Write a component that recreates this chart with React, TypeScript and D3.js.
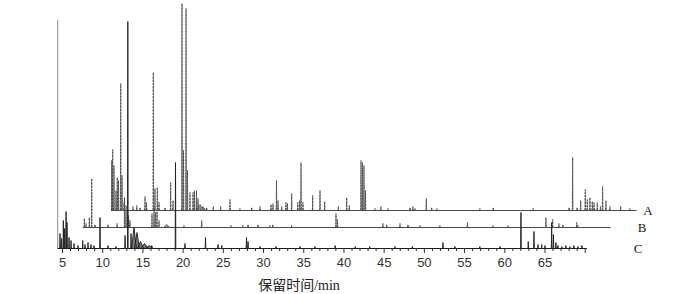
import React from 'react';
import * as d3 from 'd3';

// Shared retention-time axis (min)
const xTicks = [5, 10, 15, 20, 25, 30, 35, 40, 45, 50, 55, 60, 65];
const minorTicks = d3.range(5, 71, 1);
const traceNames = ['A', 'B', 'C'];
// apparent start / end time of each trace on the shared axis
const traceRanges: [number, number][] = [[11.03, 76.4], [7.51, 73.17], [4.4, 70.2]];

// peaks: [retention time (min, apparent), intensity, optional half width (min)]
const peaksA: number[][] = [
  [11.12, 50], [11.24, 61], [11.4, 45], [11.65, 20], [11.81, 33], [11.96, 30], [12.24, 127], [12.4, 35],
  [12.65, 8], [13.77, 4], [14.23, 5], [14.64, 3], [15.26, 14], [15.45, 8], [16.29, 138], [16.5, 22],
  [16.79, 23], [17.0, 8], [17.75, 3], [18.45, 28], [18.74, 10], [19.86, 207], [20.05, 60], [20.36, 202],
  [20.54, 40], [20.85, 18], [21.23, 18], [21.41, 20], [21.66, 20], [21.85, 12], [22.1, 6, 0.5], [22.47, 4, 0.4],
  [22.93, 3], [23.75, 4], [24.67, 4], [25.83, 11], [27.07, 2], [28.53, 3], [29.56, 4], [30.93, 6],
  [31.18, 7], [31.61, 30], [31.8, 10], [32.26, 4], [32.79, 8], [32.97, 7], [33.5, 17], [34.25, 8],
  [34.47, 10], [34.66, 48], [34.9, 8], [36.11, 15], [37.02, 20], [37.6, 9], [39.3, 4], [40.34, 13],
  [40.66, 5], [42.12, 50], [42.3, 48], [42.49, 45], [42.68, 20], [43.86, 2], [44.6, 4], [45.48, 2],
  [48.21, 3], [48.58, 4], [48.84, 2], [50.24, 12], [50.91, 3], [51.57, 2], [56.91, 2], [58.57, 3],
  [63.54, 2], [68.0, 3], [68.44, 53], [69.0, 3], [69.44, 10], [70.01, 21], [70.26, 11], [70.59, 13],
  [70.88, 9], [71.1, 8], [71.5, 8], [71.9, 4], [72.17, 24], [72.58, 10], [73.08, 4], [74.41, 4], [75.57, 2],
];

const peaksB: number[][] = [
  [7.71, 9], [7.92, 4], [8.33, 10], [8.63, 49], [9.04, 3], [10.66, 3], [11.78, 4], [12.71, 30],
  [12.9, 22], [13.21, 12], [13.39, 7], [16.13, 14], [16.38, 20], [16.56, 15], [16.75, 16], [17.0, 7],
  [17.96, 3, 0.4], [20.11, 2], [22.31, 7], [25.95, 2], [27.44, 2], [28.07, 3], [29.31, 3], [30.8, 2],
  [31.14, 3], [33.5, 2], [39.01, 14], [39.2, 8], [44.85, 4], [45.31, 3], [46.97, 4], [47.96, 3],
  [49.45, 2], [51.94, 2], [55.36, 5], [58.53, 2], [60.4, 2], [65.12, 10], [65.95, 8], [66.74, 4],
  [67.24, 3], [68.94, 5], [69.1, 2],
];

const peaksC: number[][] = [
  [4.69, 15], [4.88, 10], [5.1, 28], [5.25, 20], [5.44, 37], [5.56, 26], [5.81, 11], [6.06, 8],
  [6.43, 5], [6.93, 3], [7.51, 8], [7.8, 4], [8.17, 6], [8.54, 4], [8.92, 3], [9.66, 31],
  [10.66, 3], [11.65, 2], [12.78, 13], [13.12, 227], [13.52, 15], [13.89, 21, 0.3], [14.26, 16, 0.3],
  [14.7, 7, 0.4], [15.2, 5, 0.5], [15.8, 3, 0.5], [16.1, 3], [19.05, 86], [20.23, 5], [22.78, 11], [24.34, 4],
  [24.8, 3], [27.88, 11], [28.07, 7], [29.56, 2], [31.55, 2], [34.53, 2], [36.4, 2], [38.9, 3],
  [41.4, 2], [43.2, 2], [46.35, 2], [48.5, 2], [52.31, 6], [53.8, 2], [56.9, 2], [59.4, 2],
  [62.01, 36], [62.92, 7], [63.63, 17], [64.13, 4], [64.59, 4], [65.0, 3], [65.83, 26], [66.05, 14],
  [66.36, 6], [66.61, 3], [67.1, 2], [67.6, 3], [68.1, 2], [68.6, 3], [69.1, 2], [69.6, 3],
];

const allPeaks = [peaksA, peaksB, peaksC];

export default function App() {
  const W = 700;
  const H = 294;
  const x = d3.scaleLinear().domain([4.4, 70.2]).range([57.7, 586.8]);
  const y = d3.scaleLinear().domain([0, 230]).range([0, 230]);
  const baselines = [210, 227, 248];
  const axisY = 248;
  const colors = ['#4a4a4a', '#4a4a4a', '#1e1e1e'];
  const dashes = ['2.5 0.8', '2.5 0.8', 'none'];
  const line = d3.line<[number, number]>().x((d) => d[0]).y((d) => d[1]);

  const basePath = (i: number) => {
    const base = baselines[i] + 0.5;
    const [t0, t1] = traceRanges[i];
    return line([[x(t0), base], [x(t1), base]]) || '';
  };
  const peakPath = (i: number) => {
    const base = baselines[i] + 0.5;
    let p = '';
    for (const pk of allPeaks[i]) {
      const [t, v, hw] = pk;
      const w = hw ?? 0.04;
      p += ' ' + (line([[x(t - w), base], [x(t), base - y(v)], [x(t + w), base]]) || '');
    }
    return p;
  };

  return (
    <svg width={W} height={H} style={{ position: 'absolute', left: 0, top: 0, background: '#fff' }}>
      {/* y-axis line */}
      <line x1={x(4.4)} x2={x(4.4)} y1={axisY} y2={20} stroke="#8a8a8a" strokeWidth={1} />
      {/* x axis */}
      <line x1={x(4.4)} x2={x(70.2)} y1={axisY + 0.5} y2={axisY + 0.5} stroke="#222" strokeWidth={1} />
      {minorTicks.map((t) => (
        <line key={'m' + t} x1={x(t)} x2={x(t)} y1={axisY} y2={axisY + (t % 5 === 0 ? 5 : 3)} stroke="#333" strokeWidth={1} />
      ))}
      {xTicks.map((t) => (
        <text key={'t' + t} x={x(t)} y={267} textAnchor="middle" fontFamily="'Liberation Sans', Arial, sans-serif" fontSize={13} fill="#333">
          {t}
        </text>
      ))}
      <text x={299} y={290} textAnchor="middle" fontFamily="'Liberation Serif', 'Noto Sans CJK SC', serif" fontSize={14} fill="#222">
        保留时间/min
      </text>
      {traceNames.map((n, i) => (
        <path key={'b' + n} d={basePath(i)} fill="none" stroke={colors[i]} strokeWidth={1} />
      ))}
      {traceNames.map((n, i) => (
        <path key={'p' + n} d={peakPath(i)} fill={colors[i]} fillOpacity={0.6} stroke={colors[i]} strokeWidth={0.9} strokeDasharray={dashes[i]} />
      ))}
      {traceNames.map((n, i) => (
        <text key={'l' + n} x={[648, 642, 638][i]} y={baselines[i] + 5} textAnchor="middle" fontFamily="'Liberation Serif', 'Times New Roman', serif" fontSize={13} fill="#222">
          {n}
        </text>
      ))}
    </svg>
  );
}
